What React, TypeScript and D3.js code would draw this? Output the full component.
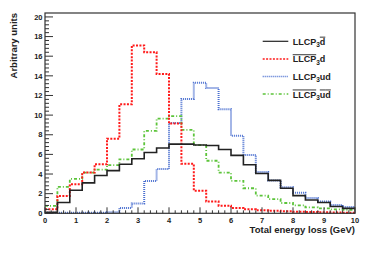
import * as React from 'react';
import * as d3 from 'd3';

// 25 bins of 0.4 GeV from 0 to 10
const binWidth = 0.4;
const llcpDbar = [0.1, 1.1, 2.35, 3.1, 3.85, 4.35, 5.0, 5.55, 6.2, 6.65, 7.05, 7.05, 6.95, 6.9, 6.5, 5.9, 4.95, 4.05, 3.35, 2.55, 1.8, 1.35, 1.1, 0.7, 0.5];
const antiLlcpD = [0.4, 1.75, 2.95, 4.15, 5.0, 7.6, 11.1, 17.1, 16.4, 14.2, 9.15, 5.05, 2.3, 1.2, 0.78, 0.55, 0.4, 0.3, 0.25, 0.2, 0.15, 0.12, 0.1, 0.08, 0.05];
const llcpUd = [0.05, 0.05, 0.05, 0.05, 0.05, 0.1, 0.55, 1.0, 3.3, 4.5, 9.2, 11.65, 13.3, 12.75, 10.6, 7.9, 5.95, 4.2, 3.35, 2.65, 2.1, 1.55, 1.2, 0.85, 0.65];
const antiLlcpAntiUd = [0.75, 2.7, 3.5, 4.15, 4.45, 4.9, 5.5, 6.5, 8.4, 9.65, 9.9, 8.5, 6.95, 5.35, 4.15, 3.3, 2.55, 1.8, 1.45, 1.05, 0.8, 0.6, 0.5, 0.4, 0.35];

const xTicks = [0, 1, 2, 3, 4, 5, 6, 7, 8, 9, 10];
const yTicks = [0, 2, 4, 6, 8, 10, 12, 14, 16, 18, 20];

const W = 374;
const H = 254;
const left = 45;
const right = 355;
const top = 13;
const bottom = 213.3;

const font = '"Liberation Sans", Arial, sans-serif';

type Series = {
  key: string;
  values: number[];
  color: string;
  width: number;
  dash?: string;
};

const series: Series[] = [
  { key: 'blue', values: llcpUd, color: '#4a6fd0', width: 2, dash: '1,1' },
  { key: 'green', values: antiLlcpAntiUd, color: '#5cc43a', width: 1.8, dash: '3,2,1,2' },
  { key: 'red', values: antiLlcpD, color: '#ff1a1a', width: 2, dash: '2,1.4' },
  { key: 'black', values: llcpDbar, color: '#222', width: 1.6 },
];

const legendSeries = ['black', 'red', 'blue', 'green'];

const Label = ({ which }: { which: string }) => {
  const sub = (
    <tspan fontSize={6.5} dy={2.5}>3</tspan>
  );
  if (which === 'black') {
    return (
      <>
        <tspan>LLCP</tspan>{sub}<tspan dy={-2.5} textDecoration="overline">d</tspan>
      </>
    );
  }
  if (which === 'red') {
    return (
      <>
        <tspan textDecoration="overline">LLCP</tspan>{sub}<tspan dy={-2.5}>d</tspan>
      </>
    );
  }
  if (which === 'blue') {
    return (
      <>
        <tspan>LLCP</tspan>{sub}<tspan dy={-2.5}>ud</tspan>
      </>
    );
  }
  return (
    <>
      <tspan textDecoration="overline">LLCP</tspan>{sub}<tspan dy={-2.5} textDecoration="overline">u</tspan><tspan textDecoration="overline">d</tspan>
    </>
  );
};

const App = () => {
  const x = d3.scaleLinear().domain([0, 10]).range([left, right]);
  const y = d3.scaleLinear().domain([0, 20.4]).range([bottom, top]);

  const line = d3
    .line<[number, number]>()
    .x((d) => x(d[0]))
    .y((d) => y(d[1]))
    .curve(d3.curveStepAfter);

  const pathFor = (vals: number[]) => {
    const pts: [number, number][] = vals.map((v, i) => [i * binWidth, v]);
    pts.push([10, vals[vals.length - 1]]);
    return line(pts) || '';
  };

  const xMinor = d3.range(0, 10.001, 0.2);
  const yMinor = d3.range(0, 20.001, 0.4);

  return (
    <svg width={W} height={H} style={{ position: 'absolute', left: 0, top: 0 }} fontFamily={font}>
      <rect x={0} y={0} width={W} height={H} fill="#fff" />
      {/* histograms */}
      {series.map((s) => (
        <path
          key={s.key}
          d={pathFor(s.values)}
          fill="none"
          stroke={s.color}
          strokeWidth={s.width}
          strokeDasharray={s.dash}
        />
      ))}
      {/* frame */}
      <rect x={left} y={top} width={right - left} height={bottom - top} fill="none" stroke="#333" strokeWidth={1.2} />
      {/* x ticks */}
      {xMinor.map((t) => (
        <line key={'xm' + t} x1={x(t)} x2={x(t)} y1={bottom} y2={bottom - (Math.abs(t - Math.round(t)) < 1e-6 ? 6 : 3)} stroke="#333" strokeWidth={1} />
      ))}
      {xTicks.map((t) => (
        <text key={'xl' + t} x={x(t)} y={bottom + 9.5} textAnchor="middle" fontSize={7.5} fontWeight="bold" fill="#222">
          {t}
        </text>
      ))}
      {/* y ticks */}
      {yMinor.map((t) => (
        <line key={'ym' + t} x1={left} x2={left + (Math.abs(t / 2 - Math.round(t / 2)) < 1e-6 ? 8 : 4)} y1={y(t)} y2={y(t)} stroke="#333" strokeWidth={1} />
      ))}
      {yTicks.map((t) => (
        <text key={'yl' + t} x={left - 2.5} y={y(t) + 2.7} textAnchor="end" fontSize={7.5} fontWeight="bold" fill="#222">
          {t}
        </text>
      ))}
      {/* axis titles */}
      <text x={right} y={232.5} textAnchor="end" fontSize={9.5} fontWeight="bold" fill="#222">
        Total energy loss (GeV)
      </text>
      <text transform={`translate(16.5,${top}) rotate(-90)`} textAnchor="end" fontSize={9.5} fontWeight="bold" fill="#222">
        Arbitrary units
      </text>
      {/* legend */}
      {legendSeries.map((k, i) => {
        const s = series.find((d) => d.key === k)!;
        const ly = 41.3 + i * 17.6;
        return (
          <g key={'lg' + k}>
            <line x1={262.7} x2={288.3} y1={ly} y2={ly} stroke={s.color} strokeWidth={s.key === 'black' ? 1.2 : 1.5} strokeDasharray={s.dash} />
            <text x={292.7} y={ly + 3.4} fontSize={9} fontWeight="bold" fill="#222">
              <Label which={k} />
            </text>
          </g>
        );
      })}
    </svg>
  );
};

export default App;
